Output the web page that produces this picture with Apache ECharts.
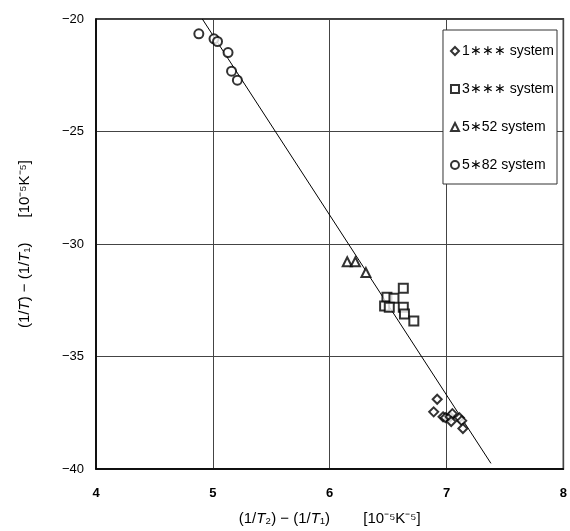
<!DOCTYPE html>
<html>
<head>
<meta charset="utf-8">
<script src="https://cdn.jsdelivr.net/npm/echarts@6/dist/echarts.min.js"></script>
<style>
  html, body { margin: 0; padding: 0; background: #fff; }
  #chart { width: 570px; height: 531px; }
</style>
</head>
<body>
<div id="chart"></div>
<script>
// x = (1/T2)-(1/T1), y = (1/T)-(1/T1), both in 1e-5
const sys1 = [[6.92, -36.9], [6.89, -37.46], [6.97, -37.68], [6.99, -37.72], [7.03, -37.68],
  [7.05, -37.54], [7.04, -37.89], [7.11, -37.72], [7.13, -37.85], [7.14, -38.2]];
const sys3 = [[6.63, -31.97], [6.49, -32.37], [6.55, -32.41], [6.47, -32.76], [6.51, -32.81],
  [6.63, -32.81], [6.64, -33.11], [6.72, -33.42]];
const sys552 = [[6.15, -30.79], [6.22, -30.79], [6.31, -31.27]];
const sys582 = [[4.88, -20.66], [5.01, -20.88], [5.04, -21.0], [5.13, -21.49], [5.16, -22.32], [5.21, -22.72]];
const fitLine = [[4.91, -20], [7.38, -39.75]];
const xTicks = [4, 5, 6, 7, 8];
const yTicks = [-40, -35, -30, -25, -20];

const chart = echarts.init(document.getElementById('chart'));

const markStyle = { color: '#fff', borderColor: '#000', borderWidth: 2 };
function scatter(name, data, symbol, size) {
  return {
    name, type: 'scatter', data, symbol, symbolSize: size,
    itemStyle: markStyle, z: 3
  };
}

const option = {
  animation: false,
  textStyle: { fontFamily: 'Liberation Sans, Arial, sans-serif' },
  grid: {
    left: 96, right: 3, top: 19, bottom: 56,
    show: true, borderColor: '#000', borderWidth: 1.5
  },
  legend: {
    orient: 'vertical',
    right: 13, top: 30,
    data: ['1∗∗∗ system', '3∗∗∗ system', '5∗52 system', '5∗82 system'],
    backgroundColor: '#fff',
    borderColor: '#333', borderWidth: 1,
    padding: [14, 3, 12, 7],
    itemGap: 24,
    itemWidth: 8, itemHeight: 8,
    textStyle: { fontSize: 14, color: '#000', padding: [0, 0, 0, -2] }
  },
  xAxis: {
    type: 'value', min: xTicks[0], max: xTicks[xTicks.length - 1], interval: 1,
    axisLine: { onZero: false, lineStyle: { color: '#000', width: 1.5 } },
    axisTick: { show: false },
    splitLine: { lineStyle: { color: '#444', width: 1 } },
    axisLabel: { fontSize: 13, color: '#000', fontWeight: 'bold', margin: 18 },
    name: '{a|(1/}{i|T}{a|₂) − (1/}{i|T}{a|₁)        [10⁻⁵K⁻⁵]}',
    nameLocation: 'middle', nameGap: 42,
    nameTextStyle: {
      rich: {
        a: { fontSize: 15, color: '#000' },
        i: { fontSize: 15, color: '#000', fontStyle: 'italic' }
      }
    }
  },
  yAxis: {
    type: 'value', min: yTicks[0], max: yTicks[yTicks.length - 1], interval: 5,
    axisLine: { onZero: false, lineStyle: { color: '#000', width: 1.5 } },
    axisTick: { show: false },
    splitLine: { lineStyle: { color: '#444', width: 1 } },
    axisLabel: {
      fontSize: 13, color: '#000', margin: 12,
      formatter: v => String(v).replace('-', '−')
    },
    name: '{a|(1/}{i|T}{a|) − (1/}{i|T}{a|₁)      [10⁻⁵K⁻⁵]}',
    nameLocation: 'middle', nameGap: 64,
    nameTextStyle: {
      rich: {
        a: { fontSize: 15, color: '#000' },
        i: { fontSize: 15, color: '#000', fontStyle: 'italic' }
      }
    }
  },
  series: [
    {
      name: 'fit', type: 'line', data: fitLine, symbol: 'none',
      lineStyle: { color: '#000', width: 1 }, z: 2, silent: true
    },
    scatter('1∗∗∗ system', sys1, 'diamond', 9),
    scatter('3∗∗∗ system', sys3, 'rect', 9),
    scatter('5∗52 system', sys552, 'triangle', 9),
    scatter('5∗82 system', sys582, 'circle', 9)
  ]
};

chart.setOption(option);
</script>
</body>
</html>
